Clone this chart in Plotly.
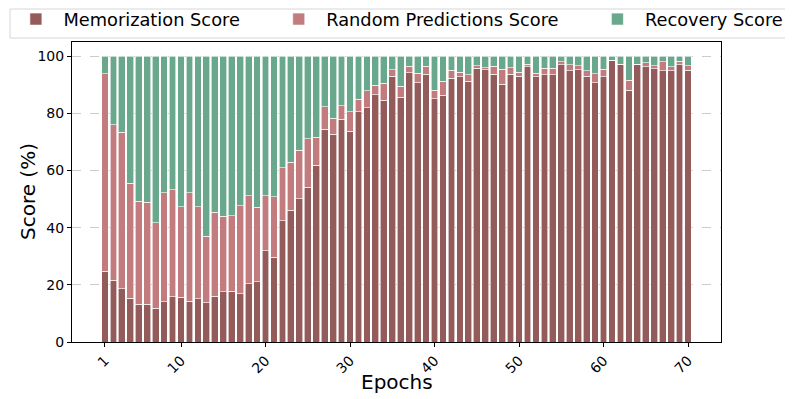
import plotly.graph_objects as go

epochs = list(range(1, 71))

memorization = [
    24.7, 21.7, 18.7, 15.3, 13.3, 13.3, 11.8, 14.1, 15.8, 15.6,
    14.3, 15.1, 13.7, 16.1, 17.6, 17.7, 16.9, 20.4, 21.1, 32.0,
    29.6, 42.5, 46.2, 50.1, 54.2, 61.9, 74.4, 72.8, 77.9, 73.7,
    80.6, 82.0, 86.6, 84.6, 93.1, 85.6, 94.2, 90.7, 93.8, 85.2,
    86.4, 92.4, 92.8, 91.2, 95.9, 95.3, 93.8, 90.3, 93.8, 93.1,
    96.3, 92.9, 93.5, 93.6, 97.0, 94.9, 95.3, 93.1, 90.7, 92.8,
    98.4, 97.1, 88.2, 97.2, 96.3, 95.6, 94.9, 94.9, 97.0, 95.2,
]
random_pred = [
    69.2, 54.4, 54.8, 40.2, 35.9, 35.6, 30.0, 38.1, 37.5, 31.8,
    38.0, 32.3, 23.3, 29.3, 26.5, 26.5, 30.8, 30.8, 26.0, 19.2,
    21.3, 18.5, 16.7, 17.0, 16.9, 9.7, 8.0, 5.5, 4.8, 6.9,
    4.3, 6.0, 3.2, 6.0, 2.2, 4.0, 2.4, 3.4, 2.8, 3.0,
    4.9, 2.7, 1.6, 2.3, 0.8, 0.7, 2.8, 5.2, 2.2, 1.4,
    0.9, 1.2, 2.3, 2.2, 1.1, 2.1, 1.4, 1.9, 3.2, 2.7,
    0.3, 0.2, 3.5, 0.1, 1.4, 1.1, 3.2, 1.5, 1.3, 1.5,
]
recovery = [
    6.1, 23.9, 26.5, 44.5, 50.8, 51.1, 58.2, 47.8, 46.7, 52.6,
    47.7, 52.6, 63.0, 54.6, 55.9, 55.8, 52.3, 48.8, 52.9, 48.8,
    49.1, 39.0, 37.1, 32.9, 28.9, 28.4, 17.6, 21.7, 17.3, 19.4,
    15.1, 12.0, 10.2, 9.4, 4.7, 10.4, 3.4, 5.9, 3.4, 11.8,
    8.7, 4.9, 5.6, 6.5, 3.3, 4.0, 3.4, 4.5, 4.0, 5.5,
    2.8, 5.9, 4.2, 4.2, 1.9, 3.0, 3.3, 5.0, 6.1, 4.5,
    1.3, 2.7, 8.3, 2.7, 2.3, 3.3, 1.9, 3.6, 1.7, 3.3,
]

x_ticks = [1, 10, 20, 30, 40, 50, 60, 70]

# name, values, colour, legend id, legend x (paper)
series = [
    ("Memorization Score", memorization, "#935b5a", "legend", -0.098),
    ("Random Predictions Score", random_pred, "#c27c7e", "legend2", 0.307),
    ("Recovery Score", recovery, "#69a88c", "legend3", 0.798),
]

fig = go.Figure()
legends = {}
for name, vals, color, leg, lx in series:
    fig.add_trace(go.Bar(
        x=epochs, y=vals, name=name, width=0.8, legend=leg, showlegend=True,
        marker=dict(color=color, line=dict(color="white", width=0.6)),
    ))
    legends[leg] = dict(
        xref="paper", yref="paper",
        x=lx, xanchor="left", y=1.075, yanchor="middle",
        font=dict(size=17.8), itemwidth=45,
        bgcolor="rgba(0,0,0,0)", borderwidth=0,
    )

# page body adds an 8px offset, so the figure is a bit smaller than the window
fig.update_layout(
    barmode="stack",
    showlegend=True,
    width=785, height=391,
    margin=dict(l=64, r=72, t=34, b=57, autoexpand=False),
    paper_bgcolor="white",
    plot_bgcolor="white",
    font=dict(family="DejaVu Sans", color="black"),
    annotations=[
        dict(text="Epochs", xref="paper", yref="paper", x=0.5, y=-40 / 300,
             xanchor="center", yanchor="middle", showarrow=False,
             font=dict(size=20)),
        dict(text="Score (%)", xref="paper", yref="paper", x=-44 / 649, y=0.5,
             xanchor="center", yanchor="middle", textangle=-90, showarrow=False,
             font=dict(size=20)),
    ],
    shapes=[
        # legend frame
        dict(type="rect", xref="paper", yref="paper",
             x0=-62 / 649, x1=716 / 649, y0=304 / 300, y1=333 / 300,
             line=dict(color="#d6d6d6", width=1), layer="below"),
    ],
    **legends,
)

fig.update_xaxes(
    range=[-2.9, 73.9],
    tickmode="array", tickvals=x_ticks,
    tickangle=-45,
    tickfont=dict(size=14),
    ticks="outside", ticklen=4, tickcolor="black",
    showline=True, linecolor="black", linewidth=1, mirror=True,
    showgrid=False, zeroline=False, automargin=False,
)
fig.update_yaxes(
    range=[0, 105],
    tickvals=[0, 20, 40, 60, 80, 100],
    tickfont=dict(size=14),
    ticks="outside", ticklen=4, tickcolor="black",
    showline=True, linecolor="black", linewidth=1, mirror=True,
    showgrid=True, gridcolor="#cccccc", griddash="dash", gridwidth=0.6,
    zeroline=False, automargin=False,
)

fig.write_html("out.html")
